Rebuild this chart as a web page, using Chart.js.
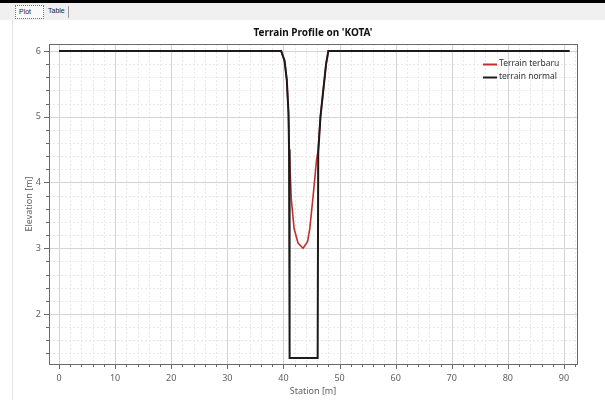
<!DOCTYPE html>
<html>
<head>
<meta charset="utf-8">
<script src="https://cdn.jsdelivr.net/npm/chart.js@4/dist/chart.umd.min.js"></script>
<style>
  html, body { margin: 0; padding: 0; background: #fff; }
  #wrap { position: relative; width: 605px; height: 400px; overflow: hidden; }
  #grafico { position: absolute; left: 0; top: 0; }
  #topo { position: absolute; left: 0; top: 0; width: 605px; height: 3px; background: #000; }
  #barra { position: absolute; left: 0; top: 3px; width: 605px; height: 17px; background: #f0f0f0; font-family: "Liberation Sans", sans-serif; font-size: 7px; color: #222; }
  .aba { position: absolute; top: 2px; height: 12px; line-height: 12px; }
  #abaPlot { left: 15px; width: 24px; padding-left: 3px; border: 1px dotted #777; background: #fafafa; }
  #abaTable { left: 48px; }
  #sep { position: absolute; left: 68px; top: 3px; width: 1px; height: 12px; background: #999; }
  #borda { position: absolute; left: 12px; top: 20px; width: 1px; height: 380px; background: #e2e2e2; }
</style>
</head>
<body>
<div id="wrap">
  <canvas id="grafico" width="605" height="400"></canvas>
  <div id="topo"></div>
  <div id="barra">
    <div class="aba" id="abaPlot">Plot</div>
    <div class="aba" id="abaTable">Table</div>
    <div id="sep"></div>
  </div>
  <div id="borda"></div>
</div>
<script>
// dados
var estacaoNormal = [0, 39.6, 40.2, 40.6, 40.9, 41.0, 41.1, 46.1, 46.2, 46.6, 47.1, 47.6, 48.0, 91];
var elevacaoNormal = [6, 6, 5.85, 5.56, 5.06, 4.5, 1.33, 1.33, 4.45, 5.0, 5.4, 5.8, 6, 6];

var estacaoNova = [0, 39.6, 40.2, 40.6, 40.9, 41.05, 41.4, 41.9, 42.6, 43.5, 44.3, 44.7, 45.3, 45.9, 46.2, 46.6, 47.1, 47.6, 48.0, 91];
var elevacaoNova = [6, 6, 5.85, 5.56, 5.06, 4.5, 3.75, 3.3, 3.08, 3.0, 3.1, 3.3, 3.8, 4.34, 4.5, 5.0, 5.4, 5.8, 6, 6];

var nomesSeries = ['Terrain terbaru', 'terrain normal'];
var coresSeries = ['#c3302b', '#1e1a1a'];

var xMin = -1.78, xMax = 92.32;
var yMin = 1.24, yMax = 6.106;

function montarPontos(xs, ys) {
    var pts = [];
    for (i = 0; i < xs.length; i++) {
        pts.push({ x: xs[i], y: ys[i] });
    }
    return pts;
}

var fonte = '"Noto Sans", sans-serif';

// grade, marcas e moldura desenhadas com as escalas do chart
var gradePlugin = {
    id: 'grade',
    beforeDatasetsDraw: function (chart) {
        var ctx = chart.ctx, a = chart.chartArea;
        var sx = chart.scales.x, sy = chart.scales.y;
        ctx.save();
        ctx.lineWidth = 1;
        for (var v = 0; v <= 92; v += 2) {
            var px = Math.round(sx.getPixelForValue(v)) + 0.5;
            if (v % 10 == 0) { ctx.strokeStyle = '#d4d4d4'; ctx.setLineDash([]); }
            else { ctx.strokeStyle = '#e8e8e8'; ctx.setLineDash([2, 2]); }
            ctx.beginPath(); ctx.moveTo(px, a.top); ctx.lineTo(px, a.bottom); ctx.stroke();
        }
        for (var k = 7; k <= 30; k++) {
            var val = k / 5;
            var py = Math.round(sy.getPixelForValue(val)) + 0.5;
            if (k % 5 == 0) { ctx.strokeStyle = '#d4d4d4'; ctx.setLineDash([]); }
            else { ctx.strokeStyle = '#e8e8e8'; ctx.setLineDash([2, 2]); }
            ctx.beginPath(); ctx.moveTo(a.left, py); ctx.lineTo(a.right, py); ctx.stroke();
        }
        ctx.restore();
    },
    afterDatasetsDraw: function (chart) {
        var ctx = chart.ctx, a = chart.chartArea;
        var sx = chart.scales.x, sy = chart.scales.y;
        ctx.save();
        ctx.strokeStyle = '#6a6a6a';
        ctx.lineWidth = 1;
        ctx.setLineDash([]);
        ctx.strokeRect(Math.round(a.left) + 0.5, Math.round(a.top) + 0.5, Math.round(a.right - a.left), Math.round(a.bottom - a.top));
        ctx.beginPath();
        for (var v = 0; v <= 92; v += 2) {
            var px = Math.round(sx.getPixelForValue(v)) + 0.5;
            var len = (v % 10 == 0) ? 5 : 3;
            ctx.moveTo(px, a.bottom); ctx.lineTo(px, a.bottom + len);
        }
        for (var k = 7; k <= 30; k++) {
            var py = Math.round(sy.getPixelForValue(k / 5)) + 0.5;
            var l2 = (k % 5 == 0) ? 5 : 3;
            ctx.moveTo(a.left, py); ctx.lineTo(a.left - l2, py);
        }
        ctx.stroke();
        ctx.restore();
    },
    afterDraw: function (chart) {
        // legenda dentro da area do grafico
        var ctx = chart.ctx;
        ctx.save();
        ctx.font = '8.5px ' + fonte;
        ctx.textBaseline = 'middle';
        for (var i = 0; i < nomesSeries.length; i++) {
            var y = 64 + i * 13;
            ctx.strokeStyle = coresSeries[i];
            ctx.lineWidth = 2;
            ctx.beginPath(); ctx.moveTo(483, y + 0.5); ctx.lineTo(497, y + 0.5); ctx.stroke();
            ctx.fillStyle = '#333';
            ctx.fillText(nomesSeries[i], 499, y);
        }
        ctx.restore();
    }
};

var config = {
    type: 'line',
    data: {
        datasets: [{
            label: nomesSeries[0],
            data: montarPontos(estacaoNova, elevacaoNova),
            borderColor: coresSeries[0],
            borderWidth: 1.6,
            pointRadius: 0,
            tension: 0,
            order: 2
        }, {
            label: nomesSeries[1],
            data: montarPontos(estacaoNormal, elevacaoNormal),
            borderColor: coresSeries[1],
            borderWidth: 2,
            pointRadius: 0,
            tension: 0,
            order: 1
        }]
    },
    options: {
        responsive: false,
        animation: false,
        layout: { padding: { left: 0, right: 28, top: 0, bottom: 0 } },
        plugins: {
            legend: { display: false },
            tooltip: { enabled: false },
            title: {
                display: true,
                fullSize: false,
                text: "Terrain Profile on 'KOTA'",
                color: '#111',
                font: { family: fonte, size: 10, weight: 'bold' },
                padding: { top: 27, bottom: 5 }
            }
        },
        scales: {
            x: {
                type: 'linear',
                min: xMin, max: xMax,
                afterFit: function (s) { s.height = 36; },
                grid: { display: false, drawTicks: false },
                border: { display: false },
                ticks: {
                    stepSize: 10, includeBounds: false, autoSkip: false, maxRotation: 0,
                    padding: 9, color: '#606060', font: { family: fonte, size: 9 }
                },
                title: {
                    display: true, text: 'Station [m]', color: '#606060',
                    font: { family: fonte, size: 9 }, padding: { top: 0, bottom: 3 }
                }
            },
            y: {
                type: 'linear',
                min: yMin, max: yMax,
                afterFit: function (s) { s.width = 49; },
                grid: { display: false, drawTicks: false },
                border: { display: false },
                ticks: {
                    stepSize: 1, includeBounds: false, autoSkip: false,
                    padding: 8, color: '#606060', font: { family: fonte, size: 9 }
                },
                title: {
                    display: true, text: 'Elevation [m]', color: '#606060',
                    font: { family: fonte, size: 9 }, padding: { top: 24, bottom: 0 }
                }
            }
        }
    },
    plugins: [gradePlugin]
};

var ctx = document.getElementById('grafico').getContext('2d');
let meuGrafico = new Chart(ctx, config);
</script>
</body>
</html>
